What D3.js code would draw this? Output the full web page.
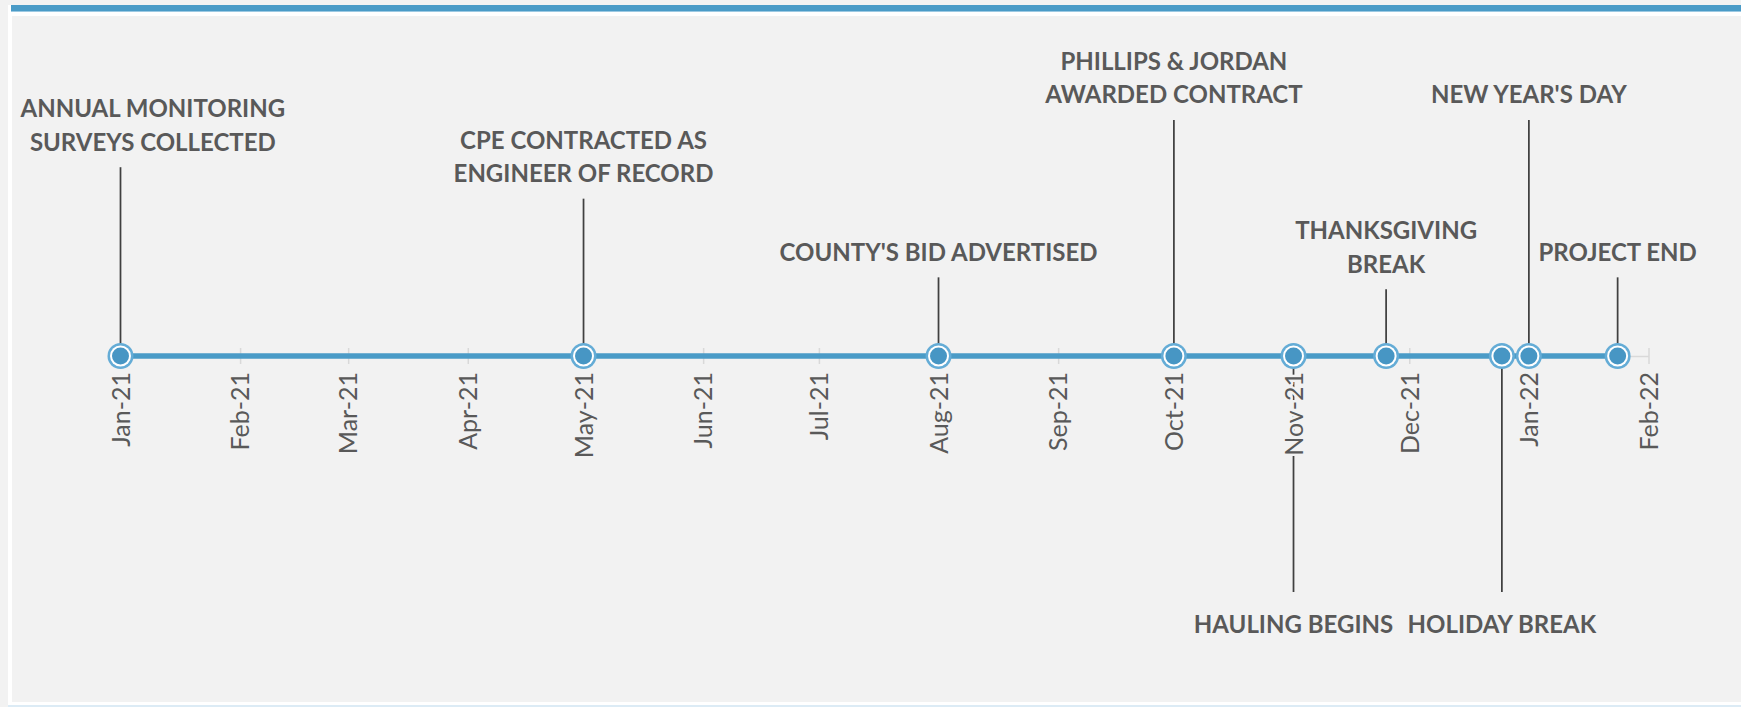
<!DOCTYPE html>
<html>
<head>
<meta charset="utf-8">
<script src="https://cdn.jsdelivr.net/npm/d3@7"></script>
<style>
  body { margin: 0; background: #f2f2f2; }
  svg { display: block; }
</style>
</head>
<body>
<svg width="1741" height="707"></svg>
<script>
// события временной шкалы
const eventDates = ["2021-01-01", "2021-05-01", "2021-08-01", "2021-10-01", "2021-11-01",
                    "2021-11-25", "2021-12-25", "2022-01-01", "2022-01-24"];
const eventNames = ["ANNUAL MONITORING\nSURVEYS COLLECTED", "CPE CONTRACTED AS\nENGINEER OF RECORD",
                    "COUNTY'S BID ADVERTISED", "PHILLIPS & JORDAN\nAWARDED CONTRACT", "HAULING BEGINS",
                    "THANKSGIVING\nBREAK", "HOLIDAY BREAK", "NEW YEAR'S DAY", "PROJECT END"];
// высота выноски (плюс - вверх, минус - вниз)
const eventHeights = [24, 20, 10, 30, -30, 8.5, -30, 30, 10];
const axisRange = ["2021-01-01", "2022-02-01"];
const tickFormat = "%b-%y";

const parse = d3.timeParse("%Y-%m-%d");
const svg = d3.select("svg");
const width = +svg.attr("width");
const height = +svg.attr("height");

// рамка
svg.append("rect").attr("x", 8).attr("y", 5).attr("width", width - 8).attr("height", 700).attr("fill", "#ffffff");
svg.append("rect").attr("x", 11).attr("y", 5).attr("width", width - 11).attr("height", 6).attr("fill", "#4a9bc7");
svg.append("rect").attr("x", 11).attr("y", 11).attr("width", width - 11).attr("height", 1).attr("fill", "#9cc9e2");
svg.append("rect").attr("x", 12).attr("y", 16).attr("width", width - 12).attr("height", 686).attr("fill", "#f2f2f2");
svg.append("rect").attr("x", 8).attr("y", 705).attr("width", width - 8).attr("height", 2).attr("fill", "#dcebf5");

const data = eventDates.map((d, i) => ({date: parse(d), name: eventNames[i], h: eventHeights[i]}));

const x = d3.scaleTime()
    .domain(axisRange.map(parse))
    .range([120.5, 1648.5]);
const y = d3.scaleLinear()
    .domain([-30, 30])
    .range([592, 120]);
const y0 = y(0);

// выноски
svg.append("g").selectAll("line")
    .data(data)
    .join("line")
    .attr("x1", d => x(d.date)).attr("x2", d => x(d.date))
    .attr("y1", y0).attr("y2", d => y(d.h))
    .attr("stroke", "#404040")
    .attr("stroke-width", 1.75);

// ось с месяцами (подписи поверх выносок)
const axis = svg.append("g")
    .attr("transform", `translate(0,${y0})`)
    .call(d3.axisBottom(x)
        .ticks(d3.timeMonth.every(1))
        .tickFormat(d3.timeFormat(tickFormat))
        .tickSizeOuter(0));
axis.select(".domain").attr("stroke", "#d9d9d9").attr("stroke-width", 1.5);
axis.selectAll(".tick line").attr("y1", -8).attr("y2", 8).attr("stroke", "#d9d9d9").attr("stroke-width", 1.5);
axis.selectAll(".tick text")
    .attr("transform", "rotate(-90)")
    .attr("x", -16).attr("y", 0).attr("dy", "0.35em")
    .style("text-anchor", "end")
    .attr("fill", "#595959")
    .attr("stroke", "#f2f2f2")
    .attr("stroke-width", 5)
    .style("paint-order", "stroke")
    .style("font-family", "Lato, 'Open Sans', sans-serif")
    .style("font-size", "25px");

// линия
const line = d3.line()
    .x(d => x(d.date))
    .y(() => y0);
svg.append("path")
    .attr("d", line(data))
    .attr("stroke", "#4a9bc7")
    .attr("stroke-width", 5.5)
    .attr("fill", "none");

// маркеры
const markers = svg.append("g").selectAll("g")
    .data(data)
    .join("g")
    .attr("transform", d => `translate(${x(d.date)},${y0})`);
markers.append("circle").attr("r", 13).attr("fill", "#64acd6");
markers.append("circle").attr("r", 10.5).attr("fill", "#ffffff");
markers.append("circle").attr("r", 8.5).attr("fill", "#4796c4");

// подписи
const lineH = 33.5;
const labels = svg.append("g").selectAll("text")
    .data(data)
    .join("text")
    .attr("text-anchor", "middle")
    .attr("fill", "#595959")
    .style("font-family", "Lato, 'Open Sans', sans-serif")
    .style("font-weight", "bold")
    .style("font-size", "24px");

labels.each(function(d) {
    const lines = d.name.split("\n");
    const t = d3.select(this);
    let firstY;
    if (d.h > 0) firstY = y(d.h) - 25 - (lines.length - 1) * lineH;
    else firstY = y(d.h) + 33;
    lines.forEach((s, i) => {
        t.append("tspan")
            .attr("x", x(d.date))
            .attr("y", firstY + i * lineH)
            .attr("dy", "0.35em")
            .text(s);
    });
    // не даем подписи вылезти за левый край
    const w = this.getBBox().width;
    const left = x(d.date) - w / 2;
    if (left < 20) t.selectAll("tspan").attr("x", x(d.date) + (20 - left));
});
</script>
</body>
</html>
